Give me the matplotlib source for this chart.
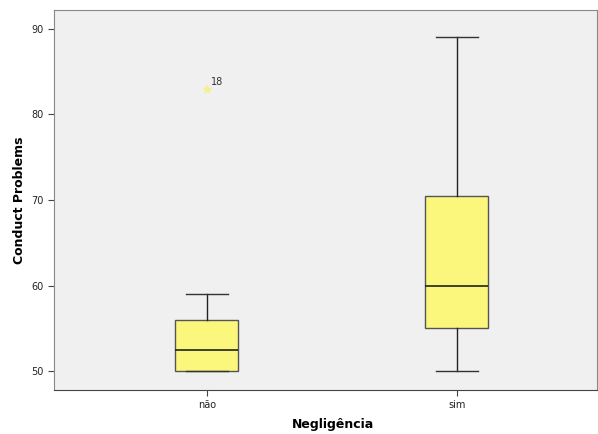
import matplotlib
matplotlib.use("Agg")
import matplotlib.pyplot as plt

categories = ["não", "sim"]
whislo = [50, 50]
q1 = [50, 55]
med = [52.5, 60]
q3 = [56, 70.5]
whishi = [59, 89]
outliers = [[83], []]
outlier_ids = [["18"], []]

stats = []
for i, lab in enumerate(categories):
    stats.append(dict(label=lab, whislo=whislo[i], q1=q1[i], med=med[i],
                      q3=q3[i], whishi=whishi[i], fliers=[]))

fig = plt.figure(figsize=(5.98, 4.34), dpi=100)
ax = fig.add_axes([0.0903, 0.1014, 0.908, 0.8756])
ax.set_facecolor("#f0f0f0")

ax.bxp(stats, positions=[0, 1], widths=0.252, patch_artist=True, showfliers=False,
       boxprops=dict(facecolor="#fbf77c", edgecolor="#555555", linewidth=1.0),
       medianprops=dict(color="#222222", linewidth=1.2),
       whiskerprops=dict(color="#222222", linewidth=1.0),
       capprops=dict(color="#333333", linewidth=1.0),
       capwidths=0.17)

for i, vals in enumerate(outliers):
    for v, name in zip(vals, outlier_ids[i]):
        ax.scatter([i], [v], marker="*", s=30, color="#f4f08a", zorder=3)
        ax.annotate(name, (i, v), xytext=(3, 3), textcoords="offset points",
                    fontsize=7, color="#333333")

ax.set_xlim(-0.612, 1.56)
ax.set_ylim(47.8, 92.2)
ax.set_yticks([50, 60, 70, 80, 90])
ax.set_xticks([0, 1])
ax.set_xticklabels(categories)
ax.tick_params(axis="both", labelsize=7, length=4, color="#444444", labelcolor="#222222")

for side in ["top", "right", "left"]:
    ax.spines[side].set_color("#888888")
ax.spines["bottom"].set_color("#444444")

ax.set_ylabel("Conduct Problems", fontsize=9, fontweight="bold", labelpad=4)
ax.set_xlabel("Negligência", fontsize=9, fontweight="bold")
ax.xaxis.set_label_coords(0.513, -0.075)

fig.savefig("out.png", dpi=100)
